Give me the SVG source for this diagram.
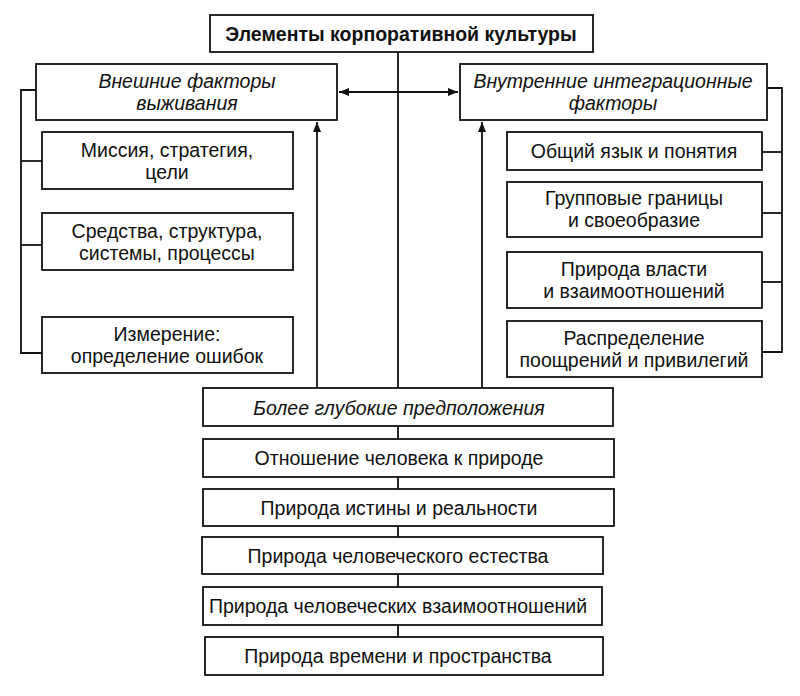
<svg xmlns="http://www.w3.org/2000/svg" width="800" height="696" viewBox="0 0 800 696">
<defs>
<marker id="ah" viewBox="0 0 10 10" refX="10" refY="5" markerWidth="10" markerHeight="10" markerUnits="userSpaceOnUse" orient="auto-start-reverse">
<path d="M0,1 L10,5 L0,9 Z" fill="#111"/>
</marker>
<style>
rect{fill:#fff;stroke:#111;stroke-width:1.8}
.c line,.c polyline{stroke:#111;stroke-width:1.8;fill:none}
text{font-family:"Liberation Sans",Arial,sans-serif;font-size:19.5px;fill:#111;text-anchor:middle}
.b{font-weight:bold}
.i{font-style:italic}
</style>
</defs>
<rect x="0" y="0" width="800" height="696" style="fill:#fff;stroke:none"/>
<g class="c" id="connectors">
<line x1="398" y1="52" x2="398" y2="388"/>
<line x1="339" y1="92" x2="458" y2="92" marker-start="url(#ah)" marker-end="url(#ah)"/>
<line x1="317" y1="388" x2="317" y2="122" marker-end="url(#ah)"/>
<line x1="482" y1="388" x2="482" y2="122" marker-end="url(#ah)"/>
<polyline points="36,90 21,90 21,353 42,353"/>
<line x1="21" y1="161" x2="42" y2="161"/>
<line x1="21" y1="245" x2="42" y2="245"/>
<polyline points="767,88 782,88 782,352 762,352"/>
<line x1="762" y1="152" x2="782" y2="152"/>
<line x1="762" y1="213" x2="782" y2="213"/>
<line x1="762" y1="282" x2="782" y2="282"/>
<line x1="398" y1="426" x2="398" y2="439"/>
<line x1="398" y1="477" x2="398" y2="489"/>
<line x1="398" y1="526" x2="398" y2="537"/>
<line x1="398" y1="574" x2="398" y2="587"/>
<line x1="398" y1="625" x2="398" y2="637"/>
</g>
<g id="top"><rect x="210" y="15" width="383" height="37"/><text class="b" x="401" y="40.5">Элементы корпоративной культуры</text></g>
<g id="external"><rect x="36" y="64" width="301" height="56"/><text class="i" x="187" y="88">Внешние факторы</text><text class="i" x="187" y="110">выживания</text></g>
<g id="internal"><rect x="460" y="64" width="307" height="56"/><text class="i" x="613" y="88">Внутренние интеграционные</text><text class="i" x="613" y="110">факторы</text></g>
<g id="mission"><rect x="42" y="132" width="251" height="57"/><text x="167" y="157">Миссия, стратегия,</text><text x="167" y="179">цели</text></g>
<g id="means"><rect x="42" y="213" width="251" height="57"/><text x="167" y="238">Средства, структура,</text><text x="167" y="260">системы, процессы</text></g>
<g id="measure"><rect x="42" y="317" width="251" height="56"/><text x="167" y="341">Измерение:</text><text x="167" y="363">определение ошибок</text></g>
<g id="language"><rect x="507" y="132" width="255" height="38"/><text x="634" y="158">Общий язык и понятия</text></g>
<g id="borders"><rect x="507" y="182" width="255" height="55"/><text x="634" y="205">Групповые границы</text><text x="634" y="227">и своеобразие</text></g>
<g id="power"><rect x="507" y="252" width="255" height="56"/><text x="634" y="276">Природа власти</text><text x="634" y="298">и взаимоотношений</text></g>
<g id="rewards"><rect x="507" y="321" width="255" height="56"/><text x="634" y="345">Распределение</text><text x="634" y="367">поощрений и привилегий</text></g>
<g id="deep"><rect x="203" y="388" width="410" height="38"/><text class="i" x="399" y="414.5">Более глубокие предположения</text></g>
<g id="nature"><rect x="203" y="439" width="411" height="38"/><text x="399" y="465">Отношение человека к природе</text></g>
<g id="truth"><rect x="203" y="489" width="411" height="37"/><text x="399" y="514.5">Природа истины и реальности</text></g>
<g id="humanity"><rect x="202" y="537" width="401" height="37"/><text x="398" y="562.5">Природа человеческого естества</text></g>
<g id="relations"><rect x="203" y="587" width="399" height="38"/><text x="398" y="613">Природа человеческих взаимоотношений</text></g>
<g id="time"><rect x="205" y="637" width="398" height="38"/><text x="398" y="663">Природа времени и пространства</text></g>
</svg>
